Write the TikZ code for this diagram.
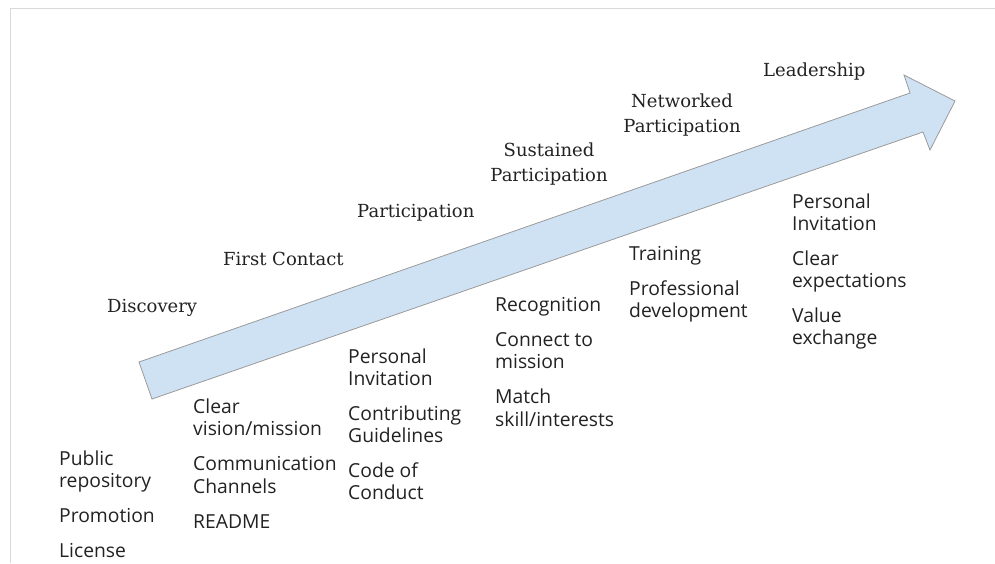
\documentclass[tikz,border=0pt]{standalone}
\usepackage{fontspec}
\setmainfont{Open Sans}
\newfontfamily\slabfont{DejaVu Serif}
\definecolor{arrowfill}{HTML}{CFE2F3}
\definecolor{arrowline}{HTML}{9A9A9A}
\definecolor{frameline}{HTML}{D9D9D9}
\definecolor{txt}{HTML}{222222}
\begin{document}
\begin{tikzpicture}[x=1pt,y=-1pt,
  low/.style={anchor=base west,inner sep=0pt,text=txt,font=\fontsize{19.3}{22.5}\selectfont},
  stage/.style={anchor=base west,inner sep=0pt,text=txt,font=\slabfont\fontsize{18}{21}\selectfont},
  stagec/.style={stage,anchor=base}]
\useasboundingbox (0,0) rectangle (995,563);
\draw[frameline,line width=1pt] (10,563) -- (10,8) -- (995,8);
% arrow
\draw[fill=arrowfill,draw=arrowline,line width=0.8pt,line join=miter]
  (139,362) -- (910,93) -- (904,75) -- (955,101) -- (930,150) -- (923,132) -- (152,399) -- cycle;
% stage labels
\node[stage] (discovery) at (107,312) {Discovery};
\node[stage] (first) at (223,265) {First Contact};
\node[stage] (participation) at (357,217) {Participation};
\node[stagec] (sustained1) at (549,156) {Sustained};
\node[stagec] (sustained2) at (549,181) {Participation};
\node[stagec] (networked1) at (682,107) {Networked};
\node[stagec] (networked2) at (682,132) {Participation};
\node[stage] (leadership) at (763,76) {Leadership};
% group 1
\node[low] (a1) at (59,465) {Public};
\node[low] (a2) at (59,487.5) {repository};
\node[low] (a3) at (59,522) {Promotion};
\node[low] (a4) at (59,557) {License};
% group 2
\node[low] (b1) at (193,413) {Clear};
\node[low] (b2) at (193,435.5) {vision/mission};
\node[low] (b3) at (193,470.5) {Communication};
\node[low] (b4) at (193,493) {Channels};
\node[low] (b5) at (193,528) {README};
% group 3
\node[low] (c1) at (348,363) {Personal};
\node[low] (c2) at (348,385.5) {Invitation};
\node[low] (c3) at (348,420) {Contributing};
\node[low] (c4) at (348,442.5) {Guidelines};
\node[low] (c5) at (348,477) {Code of};
\node[low] (c6) at (348,499.5) {Conduct};
% group 4
\node[low] (d1) at (495,311) {Recognition};
\node[low] (d2) at (495,346) {Connect to};
\node[low] (d3) at (495,368.5) {mission};
\node[low] (d4) at (495,403.5) {Match};
\node[low] (d5) at (495,426) {skill/interests};
% group 5
\node[low] (e1) at (629,260) {Training};
\node[low] (e2) at (629,295) {Professional};
\node[low] (e3) at (629,317.5) {development};
% group 6
\node[low] (f1) at (792,208) {Personal};
\node[low] (f2) at (792,230.5) {Invitation};
\node[low] (f3) at (792,265) {Clear};
\node[low] (f4) at (792,287.5) {expectations};
\node[low] (f5) at (792,322) {Value};
\node[low] (f6) at (792,344.5) {exchange};
\end{tikzpicture}
\end{document}
